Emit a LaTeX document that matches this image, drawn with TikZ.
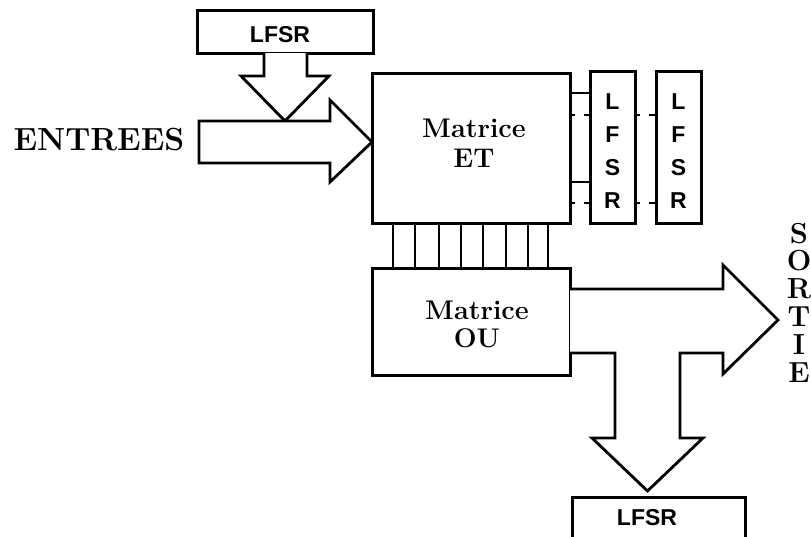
\documentclass[tikz,border=0pt]{standalone}
\usepackage{fontspec}
\newfontfamily\lfsrfont{Liberation Sans}
\usetikzlibrary{calc}
\tikzset{
  boxline/.style={draw, line width=3pt, inner sep=0pt, outer sep=0pt},
  arrowshape/.style={draw, line width=2.8pt, line join=miter, fill=white},
  bus/.style={line width=2.8pt},
  link/.style={line width=2.5pt},
  dlink/.style={line width=2.5pt, dash pattern=on 5pt off 9pt on 7pt off 0pt},
  sanslbl/.style={inner sep=0pt, align=center, font=\lfsrfont\bfseries\fontsize{23}{33}\selectfont},
  boldlbl/.style={inner sep=0pt, align=center, font=\bfseries\fontsize{27}{#1}\selectfont},
  biglbl/.style={inner sep=0pt, align=center, font=\bfseries\fontsize{#1}{27.8}\selectfont}
}
\begin{document}
\begin{tikzpicture}[x=1pt,y=-1pt]
\useasboundingbox (0,0) rectangle (811,536);

% boxes
\node[boxline, minimum width=176pt, minimum height=43pt] (lfsrA) at (285,31.5) {};
\node[boxline, minimum width=198pt, minimum height=150pt] (et) at (471,148) {};
\node[boxline, minimum width=198pt, minimum height=107pt] (ou) at (471,321.5) {};
\node[boxline, minimum width=45pt, minimum height=152pt] (l1) at (612.5,147) {};
\node[boxline, minimum width=45pt, minimum height=152pt] (l2) at (678.5,147) {};
\node[boxline, minimum width=173pt, minimum height=45pt] (lfsrC) at (658.5,519.5) {};

% block arrows
\coordinate (tipA) at (285,121);
\draw[arrowshape] ($(lfsrA.south)+(-21,0)$) -- ++(0,23) -- ++(-23,0) -- (tipA)
  -- ($(tipA)+(44,-45)$) -- ++(-22,0) -- ($(lfsrA.south)+(22,0)$);

\coordinate (tipE) at ($(et.west)+(0,-6)$);
\draw[arrowshape] (199,121) -- ($(tipE)+(-42,-21)$) -- ($(tipE)+(-42,-42)$) -- (tipE)
  -- ($(tipE)+(-42,40)$) -- ($(tipE)+(-42,21)$) -- (199,163) -- cycle;

\coordinate (o1) at ($(ou.north east)+(0,21)$);
\coordinate (o2) at ($(ou.north east)+(0,85)$);
\draw[arrowshape] (o1) -- ++(153,0) -- ++(0,-24) -- (778,320) -- (723,374) -- (723,353)
  -- (680,353) -- (680,438) -- (703,438) -- (647.5,491) -- (592,438) -- (615,438)
  -- (615,353) -- (o2);

% links ET -> LFSR
\coordinate (s1) at ($(et.north east)+(0,20)$);
\coordinate (s2) at ($(et.north east)+(0,109)$);
\coordinate (d1) at ($(et.north east)+(0,42)$);
\coordinate (d2) at ($(et.north east)+(0,130)$);
\draw[link] (s1) -- (s1 -| l1.west);
\draw[link] (s2) -- (s2 -| l1.west);
\draw[dlink] (d1) -- (d1 -| l1.west);
\draw[dlink] (d2) -- (d2 -| l1.west);
\draw[dlink] (d1 -| l1.east) -- (d1 -| l2.west);
\draw[dlink] (d2 -| l1.east) -- (d2 -| l2.west);

% bus ET -> OU
\foreach \dx in {21,43,67,89,111,134,156,176}
  \draw[bus] ($(et.south west)+(\dx,0)$) -- ($(ou.north west)+(\dx,0)$);

% texts
\node[sanslbl] (lfsrAt) at (280,35) {LFSR};
\node[sanslbl] (l1t) at (612.5,151) {L\\F\\S\\R};
\node[sanslbl] (l2t) at (678.5,151) {L\\F\\S\\R};
\node[sanslbl] (lfsrCt) at (647,518) {LFSR};
\node[boldlbl=30] (etl) at (474,143) {Matrice\\ET};
\node[boldlbl=28] (oul) at (477,324) {Matrice\\OU};
\node[biglbl=32] (ent) at (99,140) {ENTREES};
\node[biglbl=29] (sor) at (799,302.5) {S\\O\\R\\T\\I\\E};
\end{tikzpicture}
\end{document}
